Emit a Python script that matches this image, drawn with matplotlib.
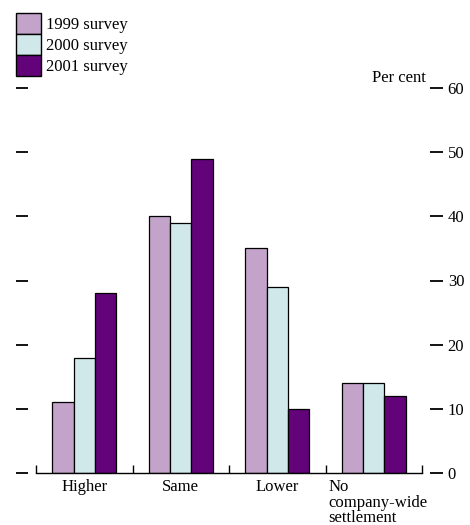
import numpy as np
import matplotlib.pyplot as plt
from matplotlib.patches import Patch

# %% data
categories = ['Higher', 'Same', 'Lower', 'No\ncompany-wide\nsettlement']
series_names = ['1999 survey', '2000 survey', '2001 survey']
s1999 = [11, 40, 35, 14]
s2000 = [18, 39, 29, 14]
s2001 = [28, 49, 10, 12]
colours = ['#c3a3c9', '#d0e8ea', '#63037a']
yticks = [0, 10, 20, 30, 40, 50, 60]

plt.rcParams['font.family'] = ['Liberation Serif', 'DejaVu Serif']
plt.rcParams['font.size'] = 12

# %% figure
fig = plt.figure(figsize=(4.7, 5.25), dpi=100)
ax = fig.add_axes([36/470, 52/525, 386/470, 385/525])

x = np.arange(len(categories))
w = 0.222
for k, vals in enumerate([s1999, s2000, s2001]):
    ax.bar(x + (k - 1)*w, vals, width=w, color=colours[k],
           edgecolor='black', linewidth=0.9, zorder=2)

ax.set_xlim(-0.5, len(categories) - 0.5)
ax.set_ylim(0, 60)

# spines
for s in ['top', 'left', 'right']:
    ax.spines[s].set_visible(False)
ax.spines['bottom'].set_linewidth(1)

# bottom: boundary ticks pointing up, labels under the groups
ax.set_xticks(np.arange(-0.5, len(categories)), minor=True)
ax.set_xticks([])
ax.tick_params(axis='x', which='minor', direction='in', length=6, width=1)
for i, lab in enumerate(categories):
    if '\n' in lab:
        ax.text(i - 0.47, -1.0, lab, ha='left', va='top', linespacing=0.95)
    else:
        ax.text(i, -1.0, lab, ha='center', va='top')

# left ticks (no labels) and right ticks with labels
ax.set_yticks(yticks)
ax.spines['left'].set_position(('outward', 6))
ax.spines['right'].set_position(('outward', 6))
ax.tick_params(axis='y', which='major', left=True, right=True,
               labelleft=False, labelright=True, direction='out',
               length=9, width=1.3, pad=3.5)

ax.text(1.01, 1.005, 'Per cent', transform=ax.transAxes,
        ha='right', va='bottom')

# legend
handles = [Patch(facecolor=c, edgecolor='black', linewidth=1) for c in colours]
fig.legend(handles, series_names, loc='upper left',
           bbox_to_anchor=(16/470, 1 - 13/525), frameon=False,
           handlelength=1.5, handleheight=1.55, labelspacing=0,
           handletextpad=0.3, borderpad=0, borderaxespad=0)

fig.savefig('out.png', dpi=100)
